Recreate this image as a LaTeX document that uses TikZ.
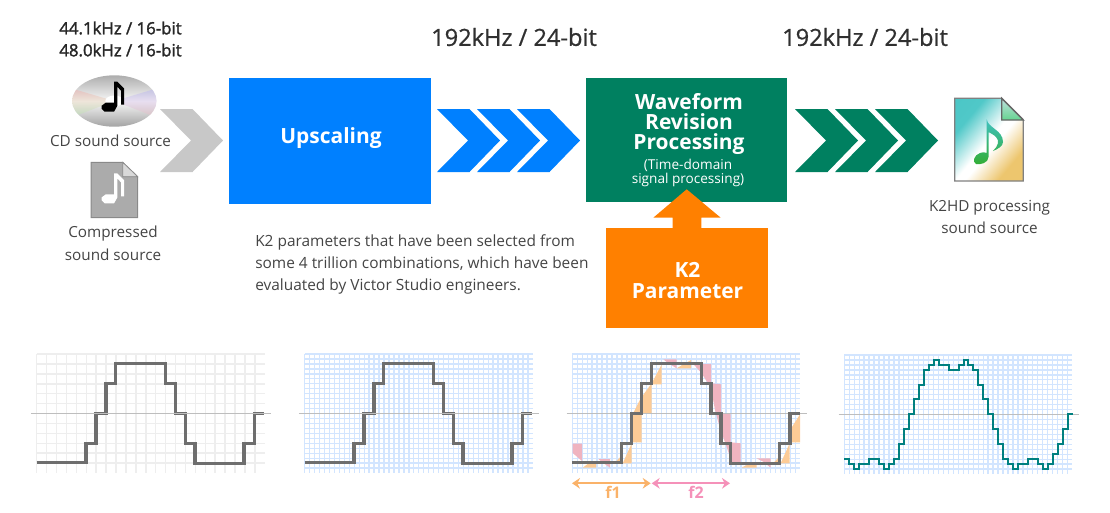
\documentclass[tikz,border=0pt]{standalone}
\usepackage{fontspec}
\setmainfont{Open Sans}
\newfontfamily\heavyfont[FakeBold=1.8]{Open Sans}
\newfontfamily\mediumfont[FakeBold=0.8]{Open Sans}
\usetikzlibrary{arrows.meta}
\definecolor{upblue}{RGB}{0,128,255}
\definecolor{revgreen}{RGB}{0,128,96}
\definecolor{parorange}{RGB}{255,128,0}
\definecolor{chevgrey}{RGB}{200,200,200}
\definecolor{textgrey}{RGB}{68,68,68}
\definecolor{wavegrey}{RGB}{110,110,110}
\definecolor{waveteal}{RGB}{0,128,128}
\definecolor{gridgrey}{RGB}{238,238,238}
\definecolor{gridblue}{RGB}{210,229,255}
\definecolor{axisgrey}{RGB}{190,190,190}
\definecolor{diffpink}{RGB}{240,180,192}
\definecolor{difforange}{RGB}{252,203,150}
\definecolor{fonearrow}{RGB}{250,178,105}
\definecolor{ftwoarrow}{RGB}{245,145,185}
\definecolor{filegrey}{RGB}{171,171,171}
\pgfdeclarehorizontalshading{k2hdfile}{100bp}{color(0bp)=(rgb,255:red,70;green,196;blue,196); color(30bp)=(rgb,255:red,80;green,200;blue,200); color(50bp)=(white); color(55bp)=(white); color(72bp)=(rgb,255:red,237;green,198;blue,110); color(100bp)=(rgb,255:red,237;green,198;blue,110)}
\tikzset{
  bigbox/.style={fill=#1,inner sep=0pt},
  ratelabel/.style={text=textgrey!70!black,inner sep=0pt,font=\mediumfont\fontsize{17.7pt}{20pt}\selectfont},
  inputlabel/.style={text=black!85,inner sep=0pt,font=\heavyfont\fontsize{12.6pt}{16.5pt}\selectfont,align=center},
  sourcelabel/.style={text=textgrey,inner sep=0pt,font=\fontsize{11.45pt}{17pt}\selectfont,align=center},
  titlelabel/.style={text=white,inner sep=0pt,font=\bfseries\fontsize{15.7pt}{15.3pt}\selectfont,align=center},
  fineprint/.style={text=white,inner sep=0pt,font=\fontsize{10.2pt}{10.5pt}\selectfont,align=center},
  freqlabel/.style={inner sep=0pt,font=\bfseries\fontsize{12pt}{12pt}\selectfont},
  coarsegrid/.style={gridgrey,line width=1.15pt,step=9.92},
  finegrid/.style={gridblue,line width=1pt,step=4.96},
  axisline/.style={axisgrey,line width=0.75pt},
  stepwave/.style={wavegrey,line width=2.6pt,line join=miter},
  diffa/.style={fill=difforange},
  diffb/.style={fill=diffpink},
  freqarrow/.style={line width=1.6pt,{Stealth[length=6pt,width=8pt]}-{Stealth[length=6pt,width=8pt]}}
}
\newcommand{\chevronshape}[2]{\fill[#2] (#1,109) -- (#1+32.5,109) -- (#1+63,140.5) -- (#1+32.5,172) -- (#1,172) -- (#1+31,140.5) -- cycle;}
\newcommand{\beamnote}[3]{\fill[#3,shift={(#1,#2)}] (12.3,0) -- (15.7,0) -- (22.3,6.7) -- (22.3,23) -- (19.3,23) -- (19.3,9) -- (15.7,5) -- (15.7,24) -- (12.3,30) -- (3,30) -- (0,27) -- (0,24) -- (4,21) -- (12.3,21) -- cycle;}
\newcommand{\stairpath}{(0,108.3) -- (49.3,108.3) -- (49.3,89.7) -- (59.3,89.7) -- (59.3,59.3) -- (69.3,59.3) -- (69.3,29.7) -- (79,29.7) -- (79,9.3) -- (129,9.3) -- (129,29.7) -- (138.7,29.7) -- (138.7,59.3) -- (148.7,59.3) -- (148.7,89.7) -- (158.3,89.7) -- (158.3,109.3) -- (207.3,109.3) -- (207.3,89.7) -- (217.7,89.7) -- (217.7,59.3) -- (227.7,59.3)}
\begin{document}
\begin{tikzpicture}[x=0.75pt,y=0.75pt,yscale=-1,xscale=1]
\useasboundingbox (0,0) rectangle (1110,512);

% Text Node
\node (inputa) [inputlabel] at (120.5,28) {44.1kHz / 16-bit};
\node (inputb) [inputlabel] at (120.5,50) {48.0kHz / 16-bit};
\node (ratea) [ratelabel] at (514,37) {192kHz / 24-bit};
\node (rateb) [ratelabel] at (865,37) {192kHz / 24-bit};

%Shape: CD
\shade[top color=black!32,bottom color=black!36,middle color=black!3] (114.3,101) ellipse (42.3 and 25.7);
\begin{scope}
\clip (114.3,101) ellipse (42.3 and 25.7);
\shade[opacity=0.35,top color=red!40,middle color=yellow!45,bottom color=green!30] (114.3,101) -- (70,88) -- (70,118) -- cycle;
\shade[opacity=0.35,top color=blue!35,middle color=green!25,bottom color=red!25] (114.3,101) -- (158,88) -- (158,118) -- cycle;
\end{scope}
\fill[white] (114.3,101) ellipse (9 and 5.5);
\beamnote{101.7}{81.7}{black}
\node (cdlabel) [sourcelabel] at (110.5,141) {CD sound source};

%Shape: Compressed file
\draw[filegrey!80!black,fill=filegrey,line width=0.75pt] (91,162.3) -- (122.7,162.3) -- (137.7,176.7) -- (137.7,217.7) -- (91,217.7) -- cycle;
\draw[filegrey!80!black,fill=black!15,line width=0.5pt] (122.7,162.3) -- (137.7,176.7) -- (122.7,176.7) -- cycle;
\beamnote{101.7}{173.4}{white}
\node (complabel) [sourcelabel] at (113,243.5) {Compressed\\sound source};

%Shape: Chevrons
\chevronshape{160}{chevgrey}
\chevronshape{437}{upblue}
\chevronshape{477}{upblue}
\chevronshape{517}{upblue}
\chevronshape{795}{revgreen}
\chevronshape{835}{revgreen}
\chevronshape{875}{revgreen}

%Shape: Boxes
\node (upscaling) [bigbox=upblue,minimum width=151.5pt,minimum height=94.5pt] at (330,141) {};
\node (upscalinglabel) [titlelabel] at (331,138) {Upscaling};
\node (revision) [bigbox=revgreen,minimum width=150.75pt,minimum height=93pt] at (686.5,140) {};
\node (parameter) [bigbox=parorange,minimum width=121.25pt,minimum height=75pt] at (686.85,278.3) {};
\node (parameterlabel) [titlelabel,font=\bfseries\fontsize{15.7pt}{15.75pt}\selectfont] at (687.5,280.5) {K2\\Parameter};
\fill[parorange] (686.7,189.3) -- (720.7,217.7) -- (701.3,217.7) -- (701.3,229) -- (672.7,229) -- (672.7,217.7) -- (653.3,217.7) -- cycle;
\node (revisiontitle) [titlelabel] at (689,124) {Waveform\\Revision\\Processing};
\node (revisionnote) [fineprint] at (688,173) {(Time-domain\\signal processing)};

% Text Node
\node (k2note) [sourcelabel,anchor=west,align=left,font=\fontsize{11.57pt}{16.5pt}\selectfont] at (255,264.5) {K2 parameters that have been selected from\\some 4 trillion combinations, which have been\\evaluated by Victor Studio engineers.};

%Shape: K2HD file
\draw[black!50,line width=1pt,shading=k2hdfile,shading angle=-40] (954.7,98.3) -- (1001.7,98.3) -- (1023.3,120) -- (1023.3,181) -- (954.7,181) -- cycle;
\draw[black!60,line width=1pt,bottom color=green!45!teal!60,top color=teal!25] (1001.7,98.3) -- (1023.3,120) -- (1001.7,120) -- cycle;
\shade[top color=teal!65!cyan!75,bottom color=green!60!black!80] (986.7,119.3) .. controls (988,128) and (1003,130) .. (1003,142) .. controls (1003,146) and (998,149) .. (993,151) .. controls (998,146) and (1000,141) .. (996,137) .. controls (993,134) and (990,133) .. (988.5,132) -- (988.5,157) .. controls (988.5,163) and (980,165) .. (976,164) .. controls (972,162) and (974,155) .. (980,153) .. controls (982,152) and (985,152) .. (986.7,153) -- cycle;
\node (k2hdlabel) [sourcelabel] at (989.5,217) {K2HD processing\\sound source};

%Shape: Panel one
\begin{scope}[shift={(36.67,354)}]
\draw[coarsegrid] (0,0) grid (228,119);
\draw[stepwave] \stairpath;
\draw[axisline] (-5.7,59.3) -- (234.3,59.3);
\end{scope}

%Shape: Panel two
\begin{scope}[shift={(304.67,354)}]
\draw[finegrid] (0,0) grid (228,119);
\draw[stepwave] \stairpath;
\draw[axisline] (-5.7,59.3) -- (234.3,59.3);
\end{scope}

%Shape: Panel three
\begin{scope}[shift={(572.3,354)}]
\draw[finegrid] (0,0) grid (228,119);
\fill[diffb] (0.4,89.7) -- (9.7,89.7) -- (9.7,107) -- (0.4,99) -- cycle;
\fill[diffa] (10.4,113.7) -- (17.7,108.3) -- (23.7,108.3) -- (23.7,113.7) -- cycle;
\fill[diffb] (26,105) -- (37.7,105) -- (37.7,113.7) -- (31,109) -- cycle;
\fill[diffa] (42.7,108.3) -- (50,101) -- (50,108.3) -- cycle;
\fill[diffa] (50.4,109.3) -- (59.4,89.3) -- (60.4,60.3) -- (68.4,44.3) -- (79.4,29.3) -- (89.4,10.3) -- (89.4,30.3) -- (79.4,30.3) -- (79.4,59.3) -- (69.4,59.3) -- (69.4,88.3) -- (59.4,88.3) -- (59.4,109.3) -- cycle;
\fill[diffb] (91,5.3) -- (104.3,5.3) -- (104.3,14.3) -- (96,9.3) -- cycle;
\fill[diffa] (104.3,14.3) -- (111.7,10) -- (118.7,6) -- (118.7,14.3) -- cycle;
\fill[diffb] (121,10) -- (138.7,10) -- (138.7,29.3) -- (148.7,30.3) -- (148.7,59.3) -- (158.4,60.3) -- (158.4,88.3) -- (168.4,89.3) -- (168.4,108.3) -- (159.4,108.3) -- (156,97.7) -- (147.7,74.3) -- (142.7,56) -- (138.7,34.3) -- (129.4,19.3) -- cycle;
\fill[diffa] (169.3,113.7) -- (177.7,109.3) -- (184.3,109.3) -- (184.3,113.7) -- cycle;
\fill[diffb] (184.3,104.3) -- (198.3,104.3) -- (198.3,113.7) -- (191,107.7) -- cycle;
\fill[diffa] (201,109.3) -- (208.3,101) -- (208.3,109.3) -- cycle;
\fill[diffa] (208.3,109.3) -- (217.4,89.3) -- (218.4,75) -- (227.7,60.3) -- (227.7,88.3) -- (217.4,88.3) -- (217.4,109.3) -- cycle;
\draw[axisline] (-5.7,59.3) -- (234.3,59.3);
\draw[stepwave] \stairpath;
\end{scope}

%Shape: Panel four
\begin{scope}[shift={(844.3,355)}]
\draw[finegrid] (0,0) grid (228,119);
\end{scope}
\draw[axisline] (838.5,414.3) -- (1079,414.3);
\begin{scope}[shift={(830,340)},x=0.25pt,y=0.25pt]
\draw[waveteal,line width=1.7pt] (43,357) -- (58,357) -- (58,372) -- (73,372) -- (73,387) -- (87,387) -- (87,372) -- (117,372) -- (117,357) -- (147,357) -- (147,372) -- (162,372) -- (162,387) -- (177,387) -- (177,372) -- (192,372) -- (192,357) -- (207,357) -- (207,313) -- (222,313) -- (222,268) -- (237,268) -- (237,222) -- (252,222) -- (252,178) -- (267,178) -- (267,134) -- (282,134) -- (282,90) -- (297,90) -- (297,74) -- (312,74) -- (312,59) -- (326,59) -- (326,74) -- (356,74) -- (356,90) -- (386,90) -- (386,74) -- (401,74) -- (401,59) -- (415,59) -- (415,74) -- (430,74) -- (430,90) -- (445,90) -- (445,134) -- (460,134) -- (460,178) -- (475,178) -- (475,222) -- (490,222) -- (490,268) -- (505,268) -- (505,313) -- (520,313) -- (520,357) -- (535,357) -- (535,372) -- (550,372) -- (550,387) -- (564,387) -- (564,372) -- (594,372) -- (594,357) -- (624,357) -- (624,372) -- (639,372) -- (639,387) -- (654,387) -- (654,372) -- (669,372) -- (669,342) -- (684,342) -- (684,313) -- (699,313) -- (699,268) -- (714,268) -- (714,222) -- (728,222);
\end{scope}

%Straight Lines
\coordinate (fonestart) at (572,483.3);
\coordinate (foneend) at (650.7,483.3);
\coordinate (ftwostart) at (651.7,483.3);
\coordinate (ftwoend) at (730,483.3);
\draw[freqarrow,fonearrow] (fonestart) -- (foneend);
\draw[freqarrow,ftwoarrow] (ftwostart) -- (ftwoend);
\node (fone) [freqlabel,text=fonearrow] at (613,492.5) {f1};
\node (ftwo) [freqlabel,text=ftwoarrow] at (696,492.5) {f2};
\end{tikzpicture}
\end{document}
